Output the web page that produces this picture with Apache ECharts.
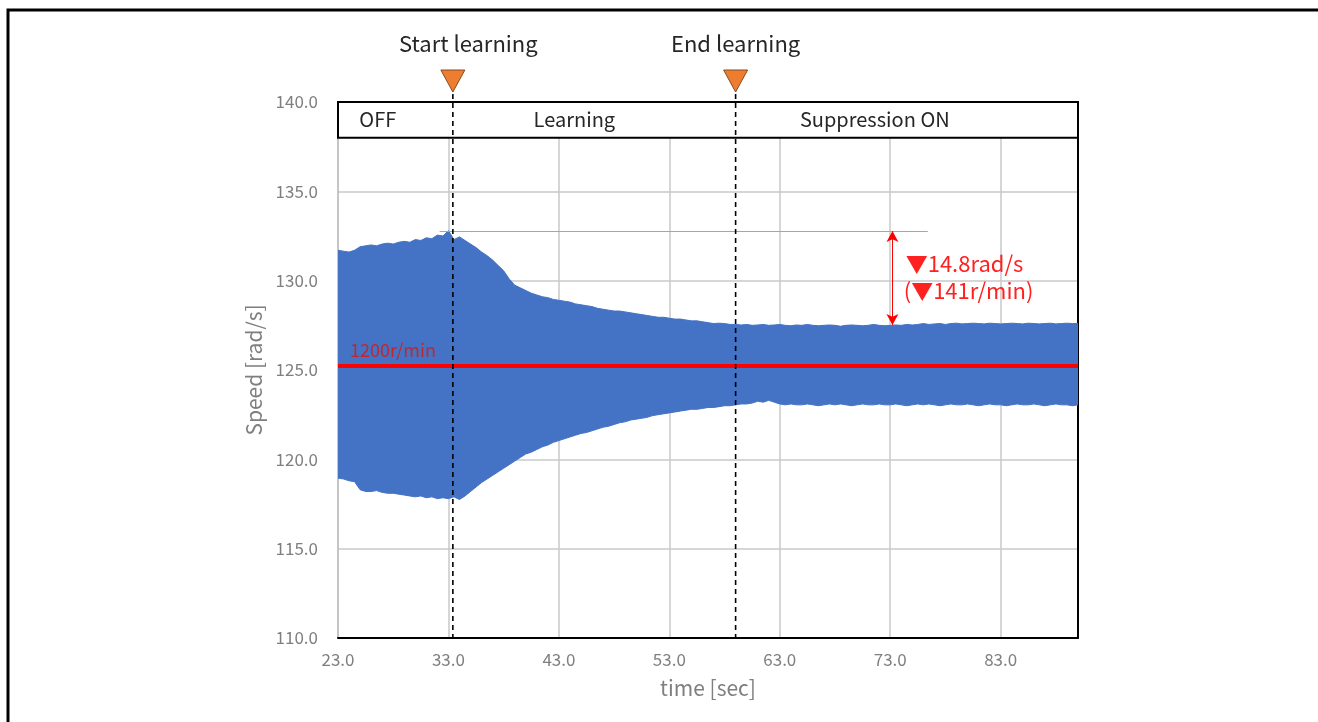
<!DOCTYPE html>
<html><head><meta charset="utf-8">
<script src="https://cdn.jsdelivr.net/npm/echarts@6/dist/echarts.min.js"></script>
<style>html,body{margin:0;padding:0;background:#fff}#c{width:1318px;height:722px}</style>
</head><body><div id="c"></div>
<script>
// sample times [sec]
const time = [
  23,23.5,24,24.5,25,25.5,26,26.5,27,27.5,
  28,28.5,29,29.5,30,30.5,31,31.5,32,32.5,
  33,33.5,34,34.5,35,35.5,36,36.5,37,37.5,
  38,38.5,39,39.5,40,40.5,41,41.5,42,42.5,
  43,43.5,44,44.5,45,45.5,46,46.5,47,47.5,
  48,48.5,49,49.5,50,50.5,51,51.5,52,52.5,
  53,53.5,54,54.5,55,55.5,56,56.5,57,57.5,
  58,58.5,59,59.5,60,60.5,61,61.5,62,62.5,
  63,63.5,64,64.5,65,65.5,66,66.5,67,67.5,
  68,68.5,69,69.5,70,70.5,71,71.5,72,72.5,
  73,73.5,74,74.5,75,75.5,76,76.5,77,77.5,
  78,78.5,79,79.5,80,80.5,81,81.5,82,82.5,
  83,83.5,84,84.5,85,85.5,86,86.5,87,87.5,
  88,88.5,89,89.5,90
];
// upper envelope of speed [rad/s]
const upper = [
  131.7,131.65,131.6,131.7,131.9,131.95,132.0,131.95,132.05,132.1,
  132.05,132.15,132.2,132.15,132.3,132.25,132.4,132.35,132.55,132.5,
  132.8,132.3,132.45,132.25,132.05,131.85,131.6,131.4,131.15,130.85,
  130.55,130.1,129.75,129.6,129.45,129.3,129.2,129.1,129.05,128.95,
  128.9,128.85,128.8,128.7,128.65,128.6,128.55,128.45,128.4,128.35,
  128.3,128.3,128.25,128.2,128.15,128.1,128.05,128.0,127.95,127.95,
  127.9,127.85,127.85,127.8,127.75,127.75,127.7,127.65,127.6,127.62,
  127.6,127.55,127.55,127.52,127.55,127.5,127.52,127.55,127.5,127.52,
  127.55,127.5,127.48,127.52,127.5,127.55,127.5,127.48,127.5,127.52,
  127.5,127.45,127.5,127.52,127.5,127.48,127.5,127.55,127.5,127.48,
  127.5,127.52,127.5,127.55,127.52,127.55,127.6,127.55,127.58,127.6,
  127.55,127.6,127.62,127.58,127.6,127.62,127.6,127.58,127.62,127.6,
  127.58,127.6,127.62,127.6,127.58,127.62,127.6,127.58,127.6,127.62,
  127.58,127.6,127.62,127.6,127.6
];
// lower envelope of speed [rad/s]
const lower = [
  118.95,118.9,118.8,118.75,118.3,118.2,118.2,118.25,118.15,118.1,
  118.1,118.05,118.0,117.95,117.9,117.95,117.85,117.9,117.8,117.85,
  117.8,117.9,117.75,117.95,118.2,118.45,118.7,118.9,119.1,119.3,
  119.5,119.7,119.9,120.1,120.3,120.4,120.55,120.7,120.8,120.95,
  121.05,121.15,121.25,121.35,121.45,121.5,121.6,121.7,121.8,121.85,
  121.95,122.05,122.1,122.2,122.25,122.3,122.35,122.45,122.5,122.55,
  122.6,122.65,122.7,122.75,122.8,122.8,122.85,122.9,122.9,122.95,
  123.0,123.0,123.05,123.1,123.1,123.15,123.25,123.2,123.3,123.2,
  123.1,123.05,123.1,123.05,123.05,123.1,123.05,123.0,123.05,123.1,
  123.05,123.1,123.05,123.0,123.05,123.1,123.05,123.05,123.1,123.05,
  123.05,123.1,123.05,123.0,123.05,123.1,123.05,123.1,123.05,123.0,
  123.05,123.1,123.05,123.05,123.1,123.05,123.0,123.05,123.1,123.05,
  123.05,123.0,123.05,123.1,123.05,123.05,123.1,123.05,123.0,123.05,
  123.1,123.05,123.05,123.0,123.05
];
const xTickLabels = ['23.0','33.0','43.0','53.0','63.0','73.0','83.0'];
const yTickLabels = ['110.0','115.0','120.0','125.0','130.0','135.0','140.0'];
const refSpeed = 125.25;          // 1200 r/min reference line
const refLabel = '1200r/min';
const peakLevel = 132.78;         // peak before learning
const suppressedLevel = 127.52;   // upper envelope after suppression
const peakLineRange = [32.2, 76.4];
const arrowX = 73.2;
const dropText = ['▼14.8rad/s', '(▼141r/min)'];
const dropTextX = 74.4;
const phases = [
  {name: 'OFF', x: 26.6},
  {name: 'Learning', x: 44.4},
  {name: 'Suppression ON', x: 71.6}
];
const events = [
  {name: 'Start learning', x: 33.4, labelX: 34.8},
  {name: 'End learning', x: 59.0, labelX: 59.0}
];
const xMin = 23, xMax = 90, yMin = 110, yMax = 140, bandBottom = 138;

const FONT = '"Noto Sans CJK JP","Noto Sans",sans-serif';
const chart = echarts.init(document.getElementById('c'));
const bandData = time.map((t, i) => [t, lower[i], upper[i]]);

chart.setOption({
  animation: false,
  backgroundColor: '#fff',
  grid: {left: 338, right: 240, top: 102, bottom: 84},
  xAxis: {
    type: 'value', min: xMin, max: xMax, interval: 10,
    name: 'time [sec]', nameLocation: 'middle', nameGap: 40,
    nameTextStyle: {color: '#7f7f7f', fontSize: 21, fontFamily: FONT},
    axisLine: {show: true, onZero: false, lineStyle: {color: '#000', width: 2}},
    axisTick: {show: false},
    axisLabel: {
      color: '#7f7f7f', fontSize: 17, fontFamily: FONT, margin: 13,
      formatter: v => { const s = v.toFixed(1); return xTickLabels.includes(s) ? s : ''; }
    },
    splitLine: {show: true, lineStyle: {color: '#c8c8c8', width: 1.5}}
  },
  yAxis: [{
    type: 'value', min: yMin, max: yMax, interval: 5,
    name: 'Speed [rad/s]', nameLocation: 'middle', nameGap: 72,
    nameTextStyle: {color: '#7f7f7f', fontSize: 21, fontFamily: FONT},
    axisLine: {show: true, lineStyle: {color: '#bfbfbf', width: 1.5}},
    axisTick: {show: false},
    axisLabel: {
      color: '#7f7f7f', fontSize: 17, fontFamily: FONT, margin: 20,
      formatter: v => { const s = v.toFixed(1); return yTickLabels.includes(s) ? s : ''; }
    },
    splitLine: {show: true, lineStyle: {color: '#c8c8c8', width: 1.5}}
  }, {
    type: 'value', min: yMin, max: yMax, interval: 5, position: 'right',
    axisLine: {show: true, lineStyle: {color: '#000', width: 2}},
    axisTick: {show: false}, axisLabel: {show: false}, splitLine: {show: false}
  }],
  series: [
    {
      type: 'custom', name: 'band', data: bandData, silent: true, clip: true,
      encode: {x: 0, y: [1, 2]},
      renderItem: (params, api) => {
        if (params.dataIndex !== 0) return null;
        const pts = [];
        for (let i = 0; i < bandData.length; i++) pts.push(api.coord([bandData[i][0], bandData[i][2]]));
        for (let i = bandData.length - 1; i >= 0; i--) pts.push(api.coord([bandData[i][0], bandData[i][1]]));
        return {type: 'polygon', shape: {points: pts}, style: {fill: '#4472C4', stroke: '#4472C4', lineWidth: 1}};
      }
    },
    {
      type: 'line', name: 'peakRef', data: [], silent: true,
      markLine: {
        silent: true, symbol: 'none', label: {show: false},
        lineStyle: {color: '#a6a6a6', width: 1, type: 'solid'},
        data: [[{coord: [peakLineRange[0], peakLevel]}, {coord: [peakLineRange[1], peakLevel]}]]
      }
    },
    {
      type: 'line', name: 'arrow', data: [], silent: true,
      markLine: {
        silent: true, symbol: ['arrow', 'arrow'], symbolSize: [9, 11], label: {show: false},
        lineStyle: {color: '#ff0000', width: 1, type: 'solid'},
        data: [[{coord: [arrowX, peakLevel]}, {coord: [arrowX, suppressedLevel]}]]
      }
    },
    {
      type: 'line', name: 'ref', data: [], silent: true,
      markLine: {
        silent: true, symbol: 'none',
        lineStyle: {color: '#ff0000', width: 4, type: 'solid'},
        label: {
          show: true, formatter: refLabel, position: 'insideStartTop', distance: [12, 6],
          color: '#c0282d', fontSize: 18, fontFamily: FONT
        },
        data: [{yAxis: refSpeed}]
      }
    }
  ]
});

const p = (x, y) => chart.convertToPixel({gridIndex: 0}, [x, y]);
const tl = p(xMin, yMax), br = p(xMax, bandBottom), bottomPt = p(xMin, yMin);
const headTop = tl[1];
const g = [];
// outer frame
g.push({type: 'polyline', z: 200, shape: {points: [[8, 722], [8, 10], [1318, 10]]},
  style: {stroke: '#000', lineWidth: 3, fill: null}});
// phase header box
g.push({type: 'rect', z: 100, shape: {x: tl[0], y: tl[1], width: br[0] - tl[0], height: br[1] - tl[1]},
  style: {fill: '#fff', stroke: '#000', lineWidth: 2}});
phases.forEach(ph => {
  const q = p(ph.x, (yMax + bandBottom) / 2);
  g.push({type: 'text', z: 101, x: q[0], y: q[1],
    style: {text: ph.name, fill: '#262626', font: '20px ' + FONT, textAlign: 'center', textVerticalAlign: 'middle'}});
});
events.forEach(ev => {
  const x = p(ev.x, yMin)[0];
  g.push({type: 'line', z: 102, shape: {x1: x, y1: headTop - 8, x2: x, y2: bottomPt[1]},
    style: {stroke: '#000', lineWidth: 1.6, lineDash: [5, 4]}});
  g.push({type: 'polygon', z: 103, shape: {points: [[x - 12, headTop - 32], [x + 12, headTop - 32], [x, headTop - 10]]},
    style: {fill: '#ED7D31', stroke: '#8a4a1c', lineWidth: 1}});
  const lx = p(ev.labelX, yMin)[0];
  g.push({type: 'text', z: 103, x: lx, y: headTop - 58,
    style: {text: ev.name, fill: '#262626', font: '22px ' + FONT, textAlign: 'center', textVerticalAlign: 'middle'}});
});
// drop annotation text
const dt = p(dropTextX, (peakLevel + suppressedLevel) / 2);
g.push({type: 'text', z: 103, x: dt[0], y: dt[1] - 14,
  style: {text: dropText[0], fill: '#ff2020', font: '22px ' + FONT, textAlign: 'left', textVerticalAlign: 'middle'}});
g.push({type: 'text', z: 103, x: dt[0] - 2, y: dt[1] + 13,
  style: {text: dropText[1], fill: '#ff2020', font: '22px ' + FONT, textAlign: 'left', textVerticalAlign: 'middle'}});
chart.setOption({graphic: {elements: g}});
</script></body></html>
